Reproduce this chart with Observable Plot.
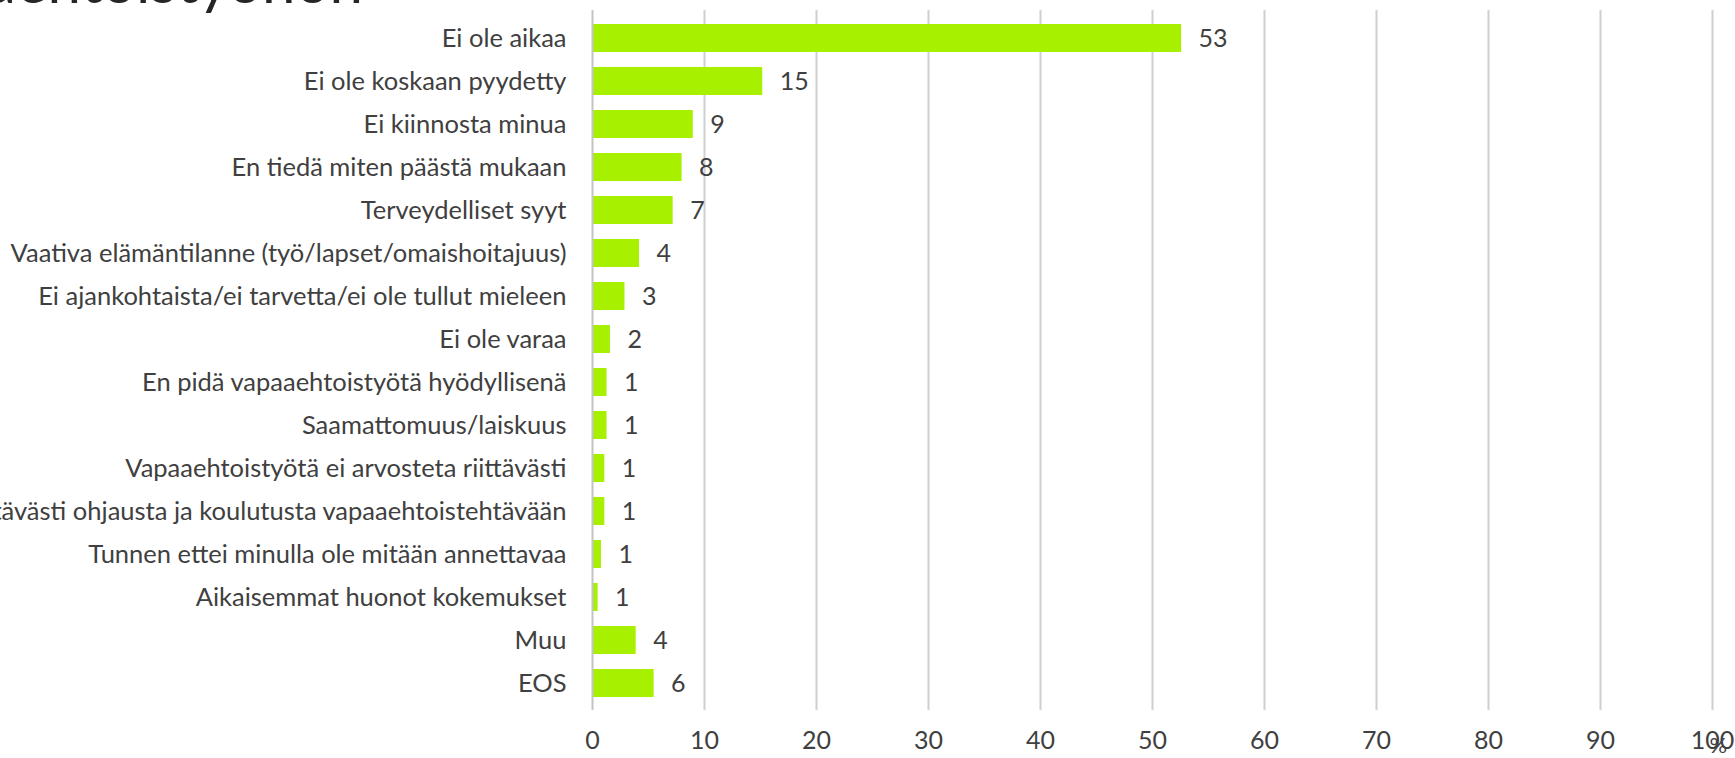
<!DOCTYPE html>
<html>
<head>
<meta charset="utf-8">
<script src="https://cdn.jsdelivr.net/npm/d3@7"></script>
<script src="https://cdn.jsdelivr.net/npm/@observablehq/plot@0.6"></script>
<style>
  html, body { margin: 0; padding: 0; background: white; overflow: hidden; }
  #wrap { position: relative; width: 1735px; height: 758px; overflow: hidden; }
  #title { position: absolute; right: 1372px; top: -50px; font-family: Lato, sans-serif; font-size: 60px; line-height: 60px; color: #262626; white-space: nowrap; z-index: 2; }
  #chart { position: absolute; left: 0; top: 0; }
</style>
</head>
<body>
<div id="wrap">
  <div id="title">vapaaehtoistyöhön</div>
  <div id="chart"></div>
</div>
<script>
const categories = [
  "Ei ole aikaa",
  "Ei ole koskaan pyydetty",
  "Ei kiinnosta minua",
  "En tiedä miten päästä mukaan",
  "Terveydelliset syyt",
  "Vaativa elämäntilanne (työ/lapset/omaishoitajuus)",
  "Ei ajankohtaista/ei tarvetta/ei ole tullut mieleen",
  "Ei ole varaa",
  "En pidä vapaaehtoistyötä hyödyllisenä",
  "Saamattomuus/laiskuus",
  "Vapaaehtoistyötä ei arvosteta riittävästi",
  "En saa riittävästi ohjausta ja koulutusta vapaaehtoistehtävään",
  "Tunnen ettei minulla ole mitään annettavaa",
  "Aikaisemmat huonot kokemukset",
  "Muu",
  "EOS"
];
const values = [52.6, 15.2, 9.0, 8.0, 7.2, 4.2, 2.9, 1.6, 1.3, 1.3, 1.1, 1.1, 0.8, 0.5, 3.9, 5.5];
const valueLabels = ["53", "15", "9", "8", "7", "4", "3", "2", "1", "1", "1", "1", "1", "1", "4", "6"];
const xTicks = [0, 10, 20, 30, 40, 50, 60, 70, 80, 90, 100];
const unitLabel = ["%"];

const data = categories.map((c, i) => ({category: c, value: values[i], label: valueLabels[i]}));

const chart = Plot.plot({
  width: 1735,
  height: 758,
  marginLeft: 592,
  marginRight: 23,
  marginTop: 10,
  marginBottom: 48,
  style: {fontFamily: "Lato, sans-serif", fontSize: "25px", color: "#404040", background: "white", overflow: "visible"},
  x: {domain: [0, 100]},
  y: {domain: categories, paddingInner: 0.35, paddingOuter: 0.18},
  marks: [
    Plot.ruleX(xTicks.slice(1), {stroke: "#d0d0d0", strokeWidth: 2}),
    Plot.barX(data, {x: "value", y: "category", fill: "#a6f000"}),
    Plot.ruleX([0], {stroke: "#c4c4c4", strokeWidth: 2}),
    Plot.text(data, {x: "value", y: "category", text: "label", textAnchor: "start", dx: 17, fill: "#404040", fontSize: 25}),
    Plot.axisX({ticks: xTicks, tickSize: 0, tickPadding: 21, label: null, fontSize: 25}),
    Plot.axisY({tickSize: 0, tickPadding: 26, label: null, fontSize: 25.5}),
    Plot.text(unitLabel, {frameAnchor: "bottom-right", textAnchor: "start", dx: -3, dy: 42, fill: "#404040", fontSize: 22})
  ]
});
document.getElementById("chart").appendChild(chart);
</script>
</body>
</html>
